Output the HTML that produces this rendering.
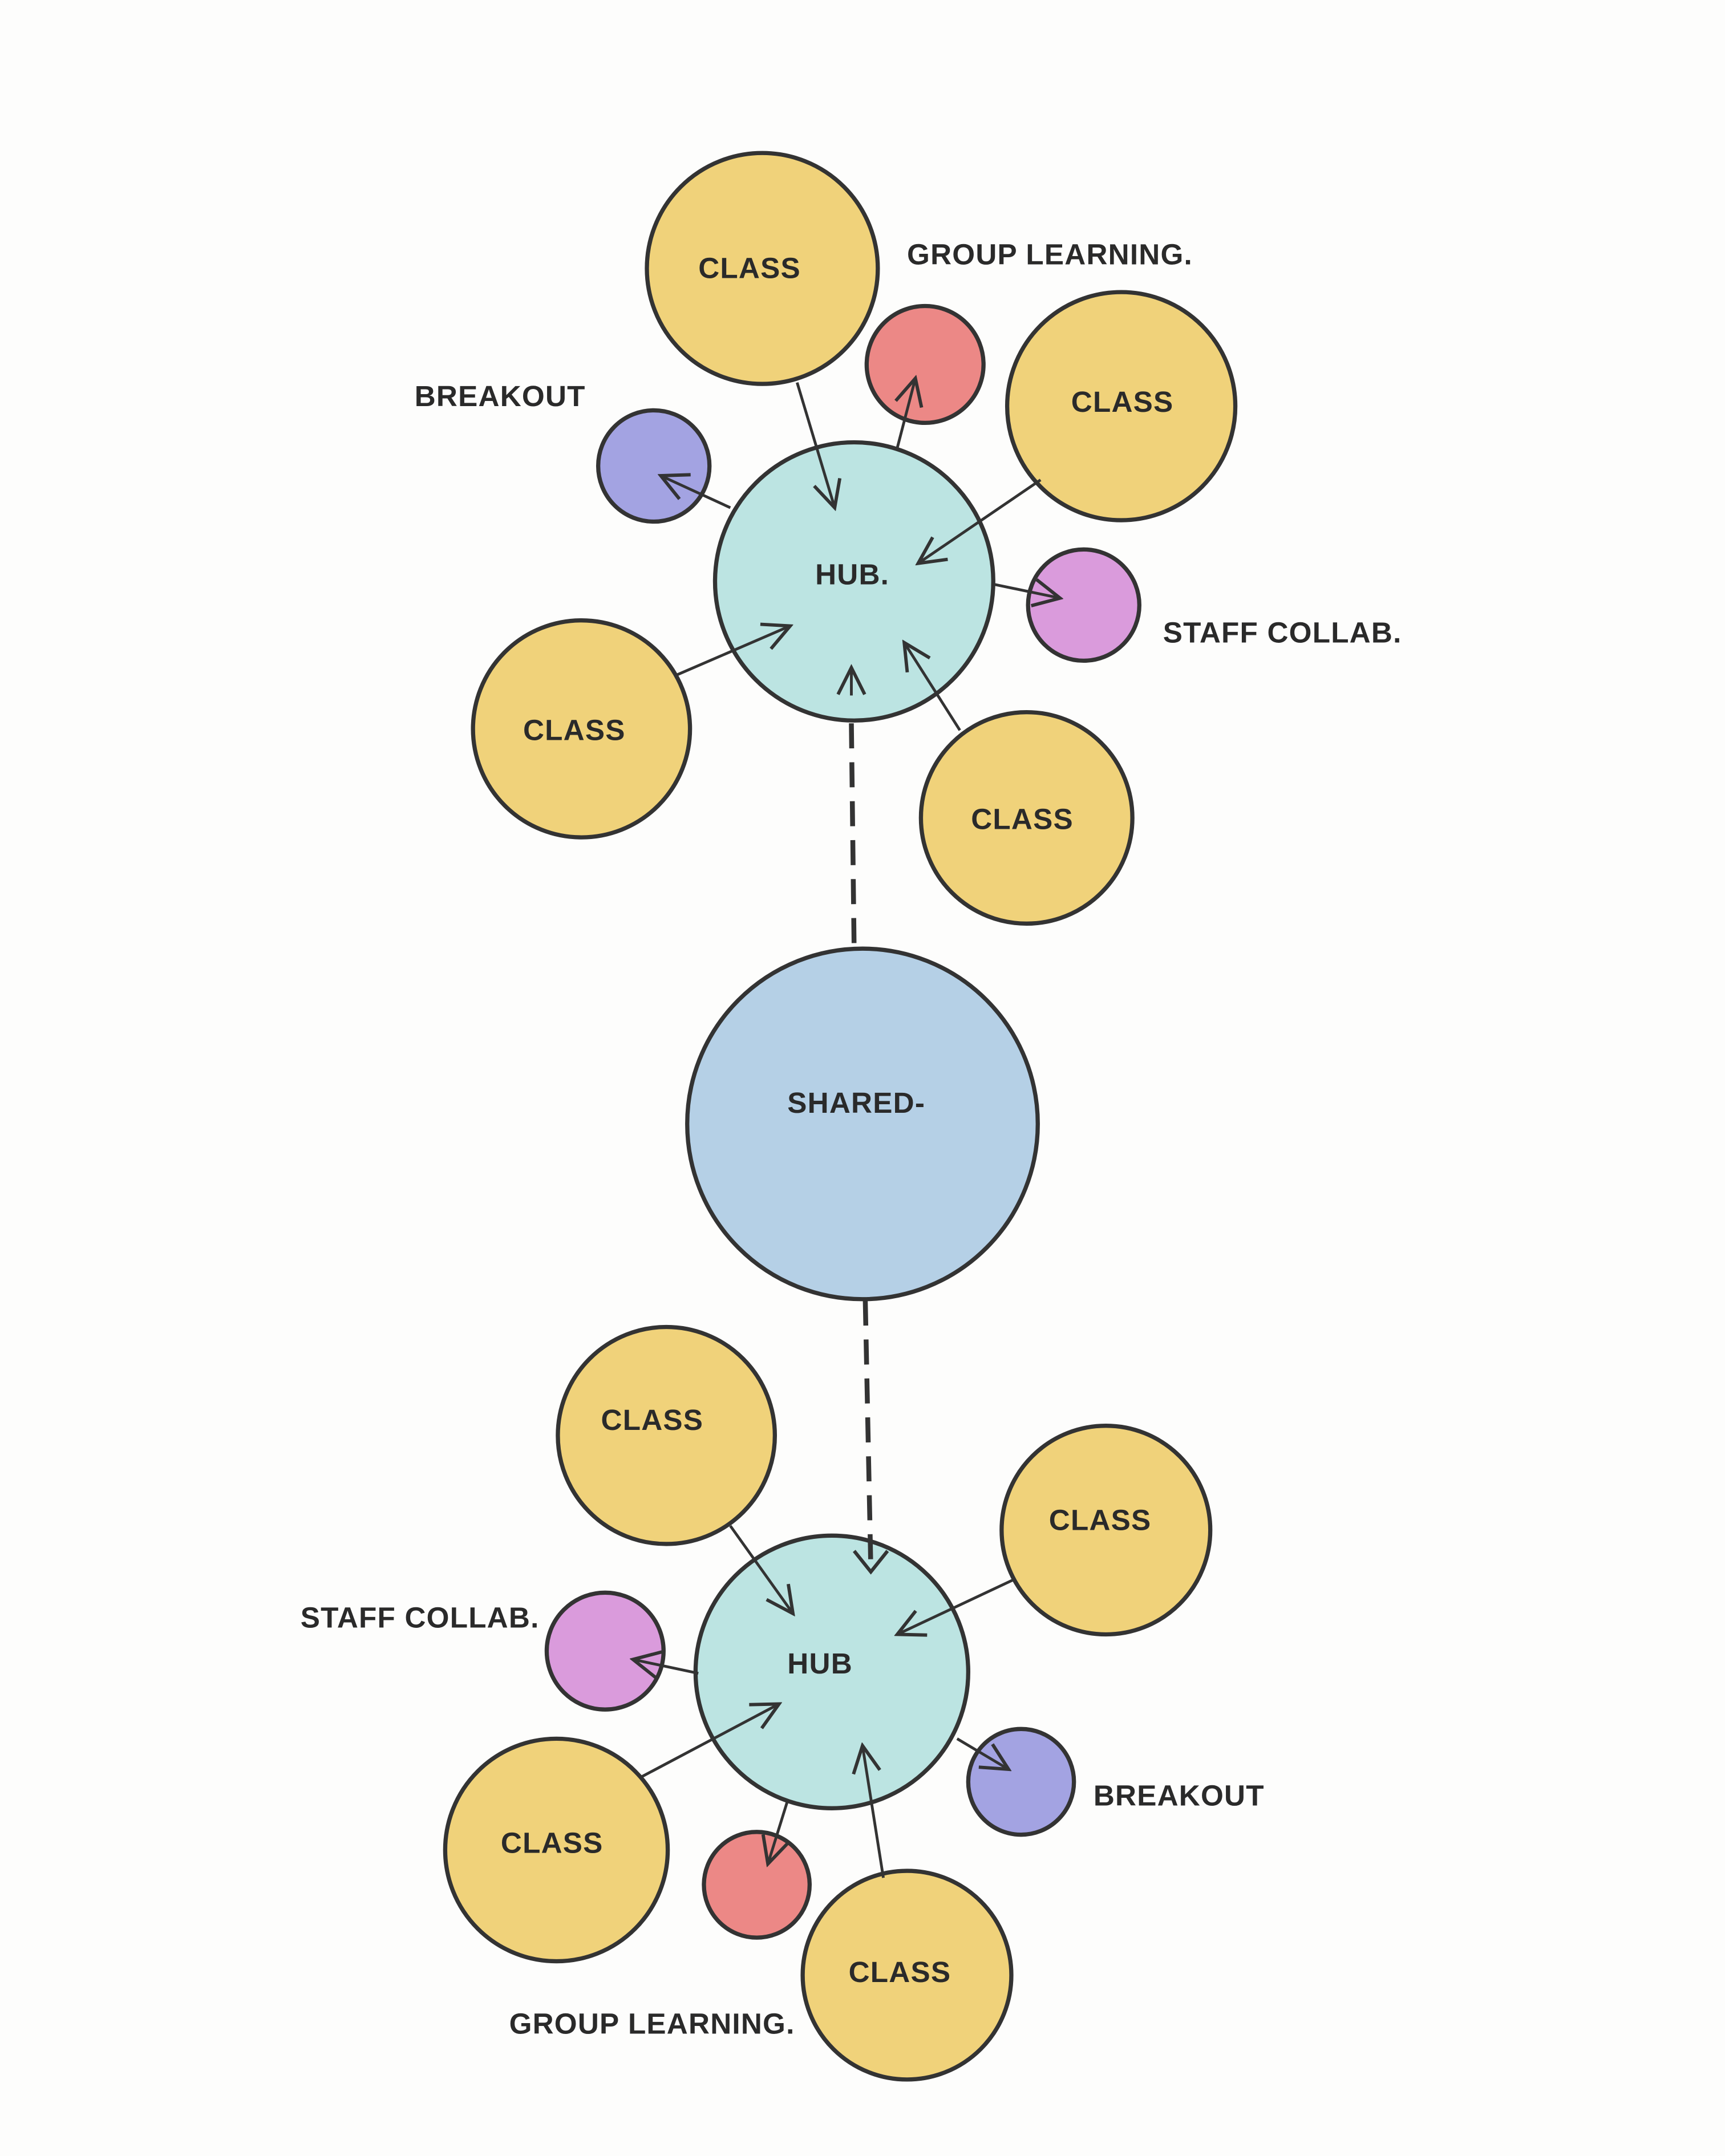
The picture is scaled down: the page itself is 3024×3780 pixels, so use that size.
<!DOCTYPE html>
<html><head><meta charset="utf-8"><style>
html,body{margin:0;padding:0;background:#fdfdfc;}
svg{display:block;}
text{font-family:"Liberation Sans",sans-serif;font-weight:bold;fill:#2a2a2a;font-size:21px;letter-spacing:0.5px;}
</style></head><body>
<svg width="3024" height="3780" viewBox="0 0 1240 1550" xmlns="http://www.w3.org/2000/svg">
<defs>
<marker id="a" viewBox="0 0 20 20" refX="18" refY="10" markerWidth="9" markerHeight="9" markerUnits="userSpaceOnUse" orient="auto">
<path d="M2,2 L18,10 L2,18" fill="none" stroke="#333" stroke-width="2.5"/>
</marker>
<marker id="b" viewBox="0 0 20 20" refX="18" refY="10" markerWidth="24" markerHeight="24" markerUnits="userSpaceOnUse" orient="auto">
<path d="M2,2 L18,10 L2,18" fill="none" stroke="#333" stroke-width="2"/>
</marker>
</defs>
<rect width="1240" height="1550" fill="#fdfdfc"/>
<g stroke="#333" stroke-width="3">
<!-- top cluster -->
<circle cx="548" cy="193" r="83" fill="#F0D27A"/>
<circle cx="665" cy="262" r="42" fill="#EC8886"/>
<circle cx="806" cy="292" r="82" fill="#F0D27A"/>
<circle cx="470" cy="335" r="40" fill="#A3A3E2"/>
<circle cx="614" cy="418" r="100" fill="#BCE4E2"/>
<circle cx="779" cy="435" r="40" fill="#DA9BDC"/>
<circle cx="418" cy="524" r="78" fill="#F0D27A"/>
<circle cx="738" cy="588" r="76" fill="#F0D27A"/>
<circle cx="620" cy="808" r="126" fill="#B5D0E6"/>
<!-- bottom cluster -->
<circle cx="479" cy="1032" r="78" fill="#F0D27A"/>
<circle cx="795" cy="1100" r="75" fill="#F0D27A"/>
<circle cx="598" cy="1202" r="98" fill="#BCE4E2"/>
<circle cx="435" cy="1187" r="42" fill="#DA9BDC"/>
<circle cx="734" cy="1281" r="38" fill="#A3A3E2"/>
<circle cx="400" cy="1330" r="80" fill="#F0D27A"/>
<circle cx="544" cy="1355" r="38" fill="#EC8886"/>
<circle cx="652" cy="1420" r="75" fill="#F0D27A"/>
</g>
<g stroke="#333" stroke-width="2" fill="none" marker-end="url(#b)">
<line x1="573" y1="275" x2="600" y2="365"/>
<line x1="645" y1="322" x2="658" y2="272"/>
<line x1="748" y1="345" x2="660" y2="405"/>
<line x1="525" y1="365" x2="475" y2="342"/>
<line x1="714" y1="420" x2="762" y2="430"/>
<line x1="487" y1="485" x2="568" y2="450"/>
<line x1="612" y1="500" x2="612" y2="480"/>
<line x1="690" y1="525" x2="650" y2="462"/>
<line x1="525" y1="1097" x2="570" y2="1160"/>
<line x1="730" y1="1135" x2="645" y2="1175"/>
<line x1="502" y1="1203" x2="455" y2="1193"/>
<line x1="688" y1="1250" x2="725" y2="1272"/>
<line x1="460" y1="1278" x2="560" y2="1225"/>
<line x1="566" y1="1295" x2="552" y2="1340"/>
<line x1="635" y1="1350" x2="620" y2="1255"/>
</g>
<g stroke="#333" stroke-width="3.5" stroke-dasharray="18,10" fill="none">
<line x1="612" y1="520" x2="614" y2="684"/>
<line x1="622" y1="935" x2="626" y2="1128"/>
</g>
<path d="M614,1115 L626,1130 L638,1115" stroke="#333" stroke-width="2.5" fill="none"/>
<text x="502" y="200">CLASS</text>
<text x="652" y="190">GROUP LEARNING.</text>
<text x="770" y="296">CLASS</text>
<text x="298" y="292">BREAKOUT</text>
<text x="586" y="420">HUB.</text>
<text x="836" y="462">STAFF COLLAB.</text>
<text x="376" y="532">CLASS</text>
<text x="698" y="596">CLASS</text>
<text x="566" y="800">SHARED-</text>
<text x="432" y="1028">CLASS</text>
<text x="754" y="1100">CLASS</text>
<text x="216" y="1170">STAFF COLLAB.</text>
<text x="566" y="1203">HUB</text>
<text x="786" y="1298">BREAKOUT</text>
<text x="360" y="1332">CLASS</text>
<text x="610" y="1425">CLASS</text>
<text x="366" y="1462">GROUP LEARNING.</text>
</svg>
</body></html>
